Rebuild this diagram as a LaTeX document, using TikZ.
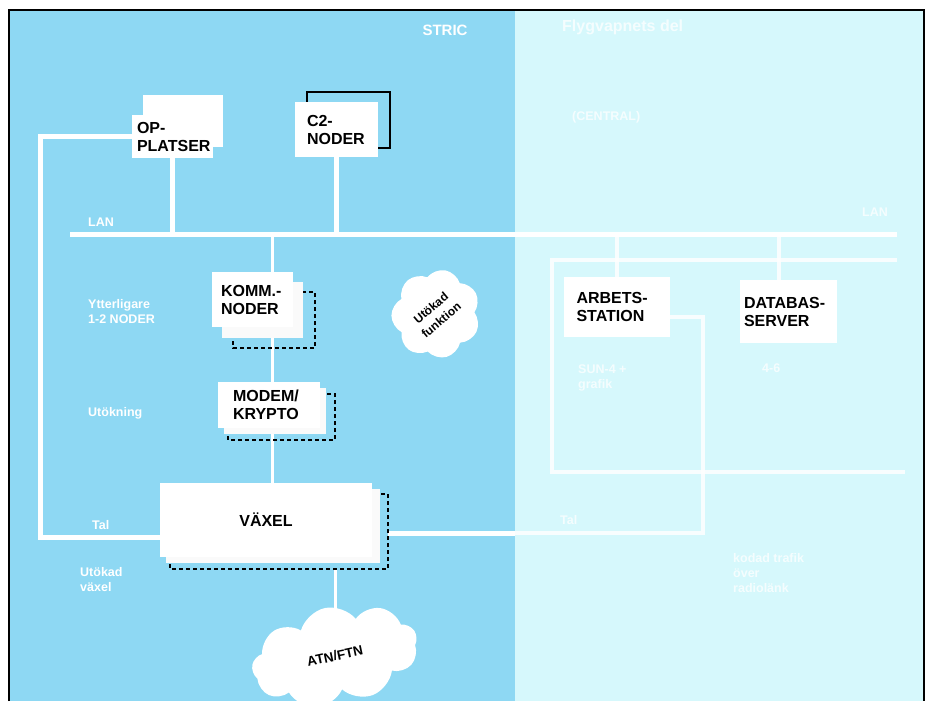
\documentclass[tikz,border=0pt]{standalone}
\usepackage{fontspec}
\setmainfont{Liberation Sans}
\usetikzlibrary{shapes.symbols,calc}
\pgfdeclarelayer{panel}
\pgfdeclarelayer{wires}
\pgfdeclarelayer{stack}
\pgfsetlayers{panel,wires,stack,main}
\definecolor{leftblue}{RGB}{142,216,243}
\definecolor{rightcyan}{RGB}{214,248,252}
\newcommand\bxfont{\bfseries\fontsize{16}{18}\selectfont}
\newcommand\lbfont{\bfseries\fontsize{12.5}{15}\selectfont}
\begin{document}
\begin{tikzpicture}[x=1pt,y=-1pt,
  wbox/.style={rectangle, fill=white, inner ysep=0pt, font=\bxfont, align=left},
  dashbox/.style={draw=black, line width=1.5pt, dash pattern=on 4pt off 3pt},
  wire/.style={white, line width=5pt},
  thinwire/.style={white, line width=3pt},
  rwire/.style={white, opacity=0.85, line width=4pt},
  lbl/.style={text=white, font=\lbfont, align=left, inner sep=0pt, anchor=west},
  rlbl/.style={text=white, opacity=0.75, font=\lbfont, align=left, inner sep=0pt, anchor=west},
  puff/.style={cloud, fill=white, draw=none, inner sep=0pt, align=center}]
\useasboundingbox (0,0) rectangle (931,701);
\begin{pgfonlayer}{panel}
\fill[leftblue] (9,10) rectangle (515,701);
\fill[rightcyan] (515,10) rectangle (924,701);
\draw[black, line width=1.3pt] (9,701) -- (9,10) -- (924,10) -- (924,701);
\end{pgfonlayer}
\begin{scope}
\clip (9,10) rectangle (924,701);
% coordinates
\coordinate (lanL) at (70,234);
\coordinate (lanR) at (897,234);
\coordinate (lanK) at (272,234);
\coordinate (talL) at (40,537);
\coordinate (talR) at (703,533);
\coordinate (arbTurn) at (703,317);
\coordinate (rbTL) at (552,260);
\coordinate (rbTR) at (897,260);
\coordinate (rbBL) at (552,472);
\coordinate (rbBR) at (905,472);
% front boxes
\node[wbox, text width=71pt, inner xsep=5pt, minimum height=43pt] (op) at (172.5,136.5) {OP-\\PLATSER};
\node[wbox, text width=59pt, inner xsep=12pt, minimum height=55pt] (c2) at (336.5,129.5) {C2-\\NODER};
\node[wbox, text width=63pt, inner xsep=9pt, minimum height=55pt] (komm) at (252.5,299.5) {KOMM.-\\NODER};
\node[wbox, text width=72pt, inner xsep=15pt, minimum height=46pt] (modem) at (269,405) {MODEM/\\KRYPTO};
\node[wbox, align=center, text width=192pt, inner xsep=10pt, minimum height=74pt] (vx) at (266,520) {VÄXEL};
\node[wbox, text width=80pt, inner xsep=13pt, minimum height=60pt] (arb) at (616.5,307) {ARBETS-\\STATION};
\node[wbox, text width=89pt, inner xsep=4pt, minimum height=63pt] (db) at (788.5,311.5) {DATABAS-\\SERVER};
% clouds
\node[puff, cloud puffs=7, cloud puff arc=125, aspect=1, rotate=40, minimum width=90pt, minimum height=88pt,
      font=\bfseries\fontsize{12}{16}\selectfont] (uf) at (436,314) {Utökad\\funktion};
\node[puff, cloud puffs=9, cloud puff arc=125, aspect=1.7, rotate=12, minimum width=168pt, minimum height=98pt,
      font=\bfseries\fontsize{13.5}{15}\selectfont] (atn) at (335,656) {ATN/FTN};
% stacked back boxes
\begin{pgfonlayer}{stack}
\fill[white] (143,95) rectangle (223,147);
\draw[black, line width=1.2pt] (307,92) rectangle (390,148);
\draw[dashbox] (233,292) rectangle (315,348);
\fill[white!96!gray] (222,282) rectangle (303,338);
\draw[dashbox] (228,394) rectangle (335,440);
\fill[white!96!gray] (224,388) rectangle (326,434);
\draw[dashbox] (170,494) rectangle (388,569);
\fill[white!96!gray] (166,489) rectangle (380,563);
\coordinate (vxdS) at (335,569);
\coordinate (vxdE) at (388,533);
\end{pgfonlayer}
% connectors
\begin{pgfonlayer}{wires}
\draw[wire] (lanL) -- (lanR);
\draw[wire] (op.south) -- (op.south |- lanL);
\draw[wire] (c2.south) -- (c2.south |- lanL);
\draw[wire] (op.west) -| (talL) -- (talL -| vx.west);
\draw[thinwire] (lanK) -- (lanK |- vx.north);
\draw[thinwire] (vxdS) -- (vxdS |- atn.center);
\draw[wire] (vxdE) -- (talR -| 515,0);
\draw[rwire] (talR -| 515,0) -- (talR) -- (arbTurn) -- (arbTurn -| arb.east);
\draw[rwire] (rbTR) -- (rbTL) -- (rbBL) -- (rbBR);
\draw[rwire] (arb.north) -- (arb.north |- lanL);
\draw[rwire] ([xshift=-10pt]db.north) -- ([xshift=-10pt]db.north |- lanL);
\end{pgfonlayer}
% white labels, left
\node[text=white, font=\bfseries\fontsize{15}{17}\selectfont, inner sep=0pt] (stric) at (445,30) {STRIC};
\node[lbl] (lanlbl) at (88,222) {LAN};
\node[lbl] (ytt) at (88,312) {Ytterligare\\1-2 NODER};
\node[lbl] (utok) at (88,413) {Utökning};
\node[lbl] (tal) at (92,525) {Tal};
\node[lbl] (utv) at (80,580) {Utökad\\växel};
% white labels, right (faint)
\node[rlbl, font=\bfseries\fontsize{16}{18}\selectfont] (rhead) at (562,27) {Flygvapnets del};
\node[rlbl] (rcen) at (572,117) {(CENTRAL)};
\node[rlbl] (rlan) at (862,212) {LAN};
\node[rlbl] (rarb) at (578,378) {SUN-4 +\\grafik};
\node[rlbl] (rdb) at (762,368) {4-6};
\node[rlbl] (rtal) at (560,520) {Tal};
\node[rlbl] (rbot) at (733,573) {kodad trafik\\över\\radiolänk};
\end{scope}
\end{tikzpicture}
\end{document}
